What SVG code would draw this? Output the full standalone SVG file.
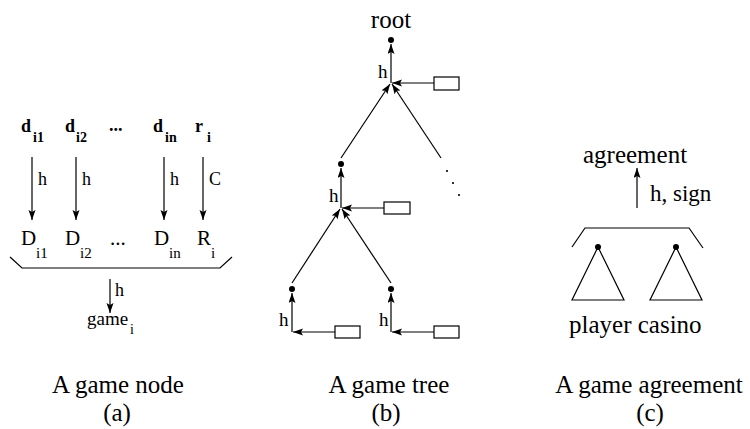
<svg xmlns="http://www.w3.org/2000/svg" width="750" height="429" viewBox="0 0 750 429">
<defs>
<marker id="ah" markerUnits="userSpaceOnUse" markerWidth="11" markerHeight="8" refX="10" refY="3.5" orient="auto">
<path d="M0,0 L10,3.5 L0,7 L2,3.5 z" fill="#000"/>
</marker>
</defs>
<rect width="750" height="429" fill="#fff"/>
<g font-family="'Liberation Serif', serif" fill="#000">

<g id="panel-a">
<g id="a-labels-top" font-size="18" font-weight="bold">
<text font-family="'Liberation Serif', serif" x="21" y="132">d</text><text font-family="'Liberation Serif', serif" x="33" y="142" font-size="14">i1</text>
<text font-family="'Liberation Serif', serif" x="65" y="132">d</text><text font-family="'Liberation Serif', serif" x="76" y="142" font-size="14">i2</text>
<text font-family="'Liberation Serif', serif" x="109" y="131">...</text>
<text font-family="'Liberation Serif', serif" x="153" y="132">d</text><text font-family="'Liberation Serif', serif" x="165" y="142" font-size="14">in</text>
<text font-family="'Liberation Serif', serif" x="195" y="132">r</text><text font-family="'Liberation Serif', serif" x="207" y="142" font-size="14">i</text>
</g>
<g id="a-labels-bottom" font-size="21">
<text font-family="'Liberation Serif', serif" x="21" y="245">D</text><text font-family="'Liberation Serif', serif" x="36" y="258" font-size="15">i1</text>
<text font-family="'Liberation Serif', serif" x="65" y="245">D</text><text font-family="'Liberation Serif', serif" x="80" y="258" font-size="15">i2</text>
<text font-family="'Liberation Serif', serif" x="110" y="245">...</text>
<text font-family="'Liberation Serif', serif" x="154" y="245">D</text><text font-family="'Liberation Serif', serif" x="169" y="258" font-size="15">in</text>
<text font-family="'Liberation Serif', serif" x="197" y="245">R</text><text font-family="'Liberation Serif', serif" x="211" y="258" font-size="15">i</text>
</g>
<g id="a-game">
<text font-family="'Liberation Serif', serif" x="87" y="325" font-size="19">game</text><text font-family="'Liberation Serif', serif" x="130" y="334" font-size="14">i</text>
</g>
<g id="a-connectors" stroke="#000" stroke-width="1.2" fill="none">
<line marker-end="url(#ah)" x1="32" y1="157" x2="32" y2="220"/>
<line marker-end="url(#ah)" x1="76" y1="157" x2="76" y2="220"/>
<line marker-end="url(#ah)" x1="164" y1="157" x2="164" y2="220"/>
<line marker-end="url(#ah)" x1="203" y1="157" x2="203" y2="220"/>
<polyline points="10,257 22,268 220,268 232,257"/>
<line marker-end="url(#ah)" x1="110" y1="279" x2="110" y2="313"/>
</g>
<g font-size="18">
<text font-family="'Liberation Serif', serif" x="38" y="185">h</text>
<text font-family="'Liberation Serif', serif" x="82" y="185">h</text>
<text font-family="'Liberation Serif', serif" x="170" y="185">h</text>
<text font-family="'Liberation Serif', serif" x="209" y="185">C</text>
<text font-family="'Liberation Serif', serif" x="115" y="296">h</text>
</g>
</g>

<g id="panel-b">
<g id="b-root"><text font-family="'Liberation Serif', serif" x="391" y="28" font-size="25" text-anchor="middle">root</text><circle cx="391" cy="40" r="3"/></g>
<g id="b-mid"><circle cx="341" cy="164" r="3"/></g>
<g id="b-leaf1"><circle cx="292" cy="289" r="3"/></g>
<g id="b-leaf2"><circle cx="391" cy="289" r="3"/></g>
<g id="b-boxes" stroke="#000" stroke-width="1.2" fill="#fff">
<rect id="b-box1" x="434" y="77" width="25" height="13"/>
<rect id="b-box2" x="384" y="202" width="26" height="12"/>
<rect id="b-box3" x="335" y="326" width="25" height="12"/>
<rect id="b-box4" x="434" y="326" width="25" height="12"/>
</g>
<g id="b-connectors" stroke="#000" stroke-width="1.2" fill="none">
<line marker-end="url(#ah)" x1="391" y1="83" x2="391" y2="44"/>
<line marker-end="url(#ah)" x1="434" y1="83" x2="392" y2="83"/>
<line marker-end="url(#ah)" x1="341" y1="158" x2="390" y2="84"/>
<line marker-end="url(#ah)" x1="441" y1="158" x2="392" y2="84"/>
<line marker-end="url(#ah)" x1="341" y1="208" x2="341" y2="168"/>
<line marker-end="url(#ah)" x1="384" y1="208" x2="342" y2="208"/>
<line marker-end="url(#ah)" x1="292" y1="283" x2="340" y2="209"/>
<line marker-end="url(#ah)" x1="391" y1="283" x2="342" y2="209"/>
<line marker-end="url(#ah)" x1="292" y1="332" x2="292" y2="293"/>
<line marker-end="url(#ah)" x1="335" y1="332" x2="293" y2="332"/>
<line marker-end="url(#ah)" x1="391" y1="332" x2="391" y2="293"/>
<line marker-end="url(#ah)" x1="434" y1="332" x2="392" y2="332"/>
</g>
<g fill="#000">
<circle cx="447" cy="171" r="1.1"/>
<circle cx="453" cy="183" r="1.1"/>
<circle cx="459" cy="195" r="1.1"/>
</g>
<g font-size="19">
<text font-family="'Liberation Serif', serif" x="378" y="78">h</text>
<text font-family="'Liberation Serif', serif" x="329" y="202">h</text>
<text font-family="'Liberation Serif', serif" x="279" y="326">h</text>
<text font-family="'Liberation Serif', serif" x="379" y="326">h</text>
</g>
</g>

<g id="panel-c">
<g id="c-agreement"><text font-family="'Liberation Serif', serif" x="583" y="163" font-size="25">agreement</text></g>
<g id="c-player"><circle cx="598" cy="247" r="3"/><polygon points="598,247 572,300 624,300" fill="none" stroke="#000" stroke-width="1.2"/></g>
<g id="c-casino"><circle cx="676" cy="247" r="3"/><polygon points="676,247 650,300 702,300" fill="none" stroke="#000" stroke-width="1.2"/></g>
<text font-family="'Liberation Serif', serif" x="569" y="333" font-size="25">player casino</text>
<g id="c-connectors" stroke="#000" stroke-width="1.2" fill="none">
<line marker-end="url(#ah)" x1="637" y1="208" x2="637" y2="168"/>
<polyline points="572,247 585,228 689,228 703,248"/>
</g>
<text font-family="'Liberation Serif', serif" x="650" y="201" font-size="23">h, sign</text>
</g>

<g id="captions" font-size="25" text-anchor="middle">
<text font-family="'Liberation Serif', serif" x="118" y="393">A game node</text>
<text font-family="'Liberation Serif', serif" x="117" y="421">(a)</text>
<text font-family="'Liberation Serif', serif" x="389" y="393">A game tree</text>
<text font-family="'Liberation Serif', serif" x="386" y="421">(b)</text>
<text font-family="'Liberation Serif', serif" x="649" y="393">A game agreement</text>
<text font-family="'Liberation Serif', serif" x="650" y="421">(c)</text>
</g>
</g>
</svg>
